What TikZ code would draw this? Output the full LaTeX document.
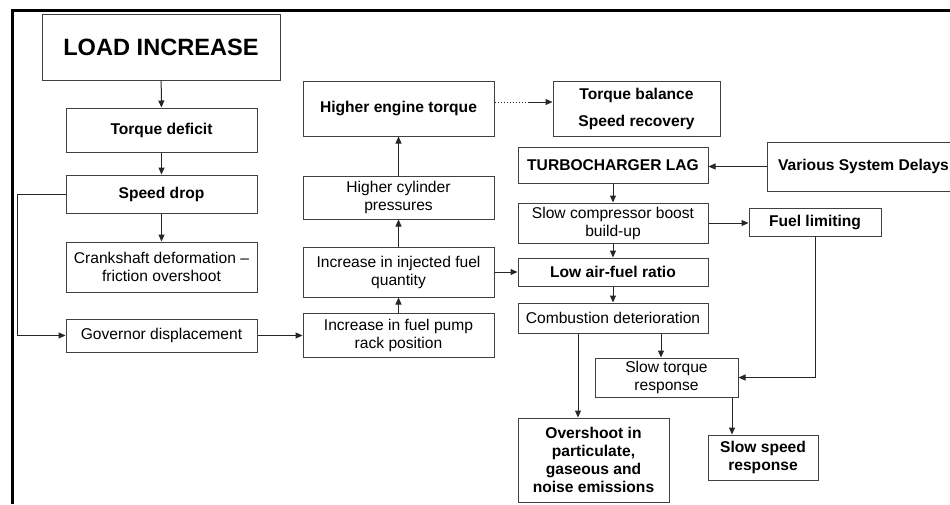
\documentclass[tikz,border=0pt]{standalone}
\usepackage{fontspec}
\setmainfont{Liberation Sans}
\usetikzlibrary{arrows.meta}
\begin{document}
\begin{tikzpicture}[x=1pt,y=-1pt,
  box/.style={draw=black!75,line width=1pt,inner sep=0pt,align=center,
    font=\fontsize{15.6}{18}\selectfont},
  bbox/.style={box,font=\fontsize{15.6}{18}\selectfont\bfseries},
  arr/.style={draw=black!85,line width=1pt,-{Triangle[length=7pt,width=6pt]}}]
\useasboundingbox (0,0) rectangle (950,504);
\begin{scope}
\clip (0,0) rectangle (950,504);
% frame
\draw[line width=2.4pt] (950,10.5) -- (12.5,10.5) -- (12.5,504);
% nodes
\node[box,minimum width=238pt,minimum height=66pt,font=\fontsize{23.6}{26}\selectfont\bfseries] (load) at (161,47) {LOAD INCREASE};
\node[bbox,minimum width=191pt,minimum height=44pt] (tdef) at (161.5,130) {Torque deficit};
\node[bbox,minimum width=191pt,minimum height=38pt] (sdrop) at (161.5,194) {Speed drop};
\node[box,minimum width=191pt,minimum height=50pt] (crank) at (161.5,267) {Crankshaft deformation --\\friction overshoot};
\node[box,minimum width=191pt,minimum height=33pt] (gov) at (161.5,335.5) {Governor displacement};
\node[box,minimum width=191pt,minimum height=44pt] (pump) at (398.5,335) {Increase in fuel pump\\rack position};
\node[box,minimum width=191pt,minimum height=50pt] (inj) at (398.5,272) {Increase in injected fuel\\quantity};
\node[box,minimum width=191pt,minimum height=43pt] (cyl) at (398.5,197.5) {Higher cylinder\\pressures};
\node[bbox,minimum width=191pt,minimum height=55pt] (het) at (398.5,108.5) {Higher engine torque};
\node[bbox,minimum width=167pt,minimum height=55pt,font=\fontsize{15.6}{27}\selectfont\bfseries] (tb) at (636.5,108.5) {Torque balance\\Speed recovery};
\node[bbox,minimum width=190pt,minimum height=36pt] (turbo) at (613,165) {TURBOCHARGER LAG};
\node[bbox,minimum width=193pt,minimum height=49pt] (vsd) at (863.5,166.5) {Various System Delays};
\node[box,minimum width=190pt,minimum height=40pt] (scomp) at (613,223) {Slow compressor boost\\build-up};
\node[bbox,minimum width=190pt,minimum height=28pt] (lafr) at (613,272) {Low air-fuel ratio};
\node[box,minimum width=190pt,minimum height=30pt] (comb) at (613,318) {Combustion deterioration};
\node[bbox,minimum width=132pt,minimum height=28pt] (fuel) at (815,222) {Fuel limiting};
\node[box,minimum width=143pt,minimum height=39pt] (storq) at (666.5,377.5) {Slow torque\\response};
\node[bbox,minimum width=151pt,minimum height=84pt] (over) at (593.5,460) {Overshoot in\\particulate,\\gaseous and\\noise emissions};
\node[bbox,minimum width=110pt,minimum height=45pt] (sspeed) at (763,457.5) {Slow speed\\response};
% connectors
\draw[arr] (load) -- (tdef);
\draw[arr] (tdef) -- (sdrop);
\draw[arr] (sdrop) -- (crank);
\draw[arr] (sdrop.west) -- ++(-48,0) |- (gov.west);
\draw[arr] (gov.east) -- (gov.east -| pump.west);
\draw[arr] (pump) -- (inj);
\draw[arr] (inj) -- (cyl);
\draw[arr] (cyl) -- (het);
\coordinate (d1) at (het.east |- 0,102);
\coordinate (d2) at (528,102);
\draw[black!85,line width=1pt,dotted] (d1) -- (d2);
\draw[arr] (d2) -- (d2 -| tb.west);
\draw[arr] (inj.east) -- (inj.east -| lafr.west);
\draw[arr] (vsd.west) -- (vsd.west -| turbo.east);
\draw[arr] (turbo) -- (scomp);
\draw[arr] (scomp) -- (lafr);
\draw[arr] (lafr) -- (comb);
\draw[arr] (scomp.east) -- (scomp.east -| fuel.west);
\draw[arr] (fuel.south) |- (storq.east);
\draw[arr] ([xshift=48pt]comb.south) -- ([xshift=48pt]comb.south |- storq.north);
\draw[arr] ([xshift=-35pt]comb.south) -- ([xshift=-35pt]comb.south |- over.north);
\draw[arr] ([xshift=65.5pt]storq.south) -- ([xshift=65.5pt]storq.south |- sspeed.north);
\end{scope}
\end{tikzpicture}
\end{document}
